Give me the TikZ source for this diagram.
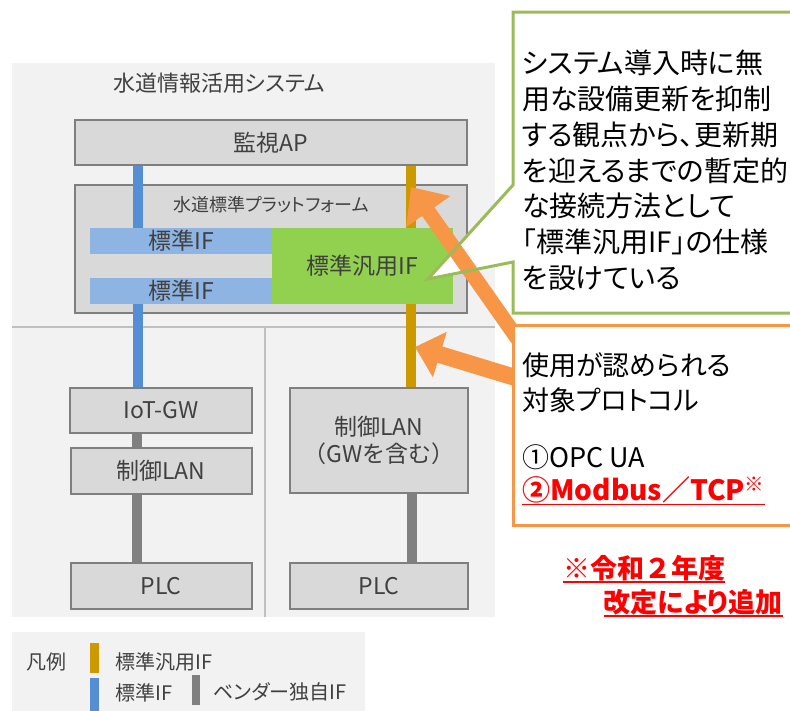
\documentclass[tikz,border=0pt]{standalone}
\usepackage{fontspec}
\setmainfont{Noto Sans CJK JP}[RawFeature=+palt]
\usetikzlibrary{arrows.meta}
\definecolor{bgsys}{HTML}{F2F2F2}
\definecolor{boxfill}{HTML}{D9D9D9}
\definecolor{boxline}{HTML}{7F7F7F}
\definecolor{divline}{HTML}{BFBFBF}
\definecolor{ifblue}{HTML}{8DB4E2}
\definecolor{lineblue}{HTML}{558ED5}
\definecolor{ifgreen}{HTML}{92D050}
\definecolor{goldline}{HTML}{CC9900}
\definecolor{vgray}{HTML}{808080}
\definecolor{orng}{HTML}{F79646}
\definecolor{cgreen}{HTML}{9BBB59}
\definecolor{txt}{HTML}{404040}
\definecolor{redtxt}{HTML}{FF0000}
\begin{document}
\begin{tikzpicture}[x=1pt,y=-1pt,
  sysbox/.style={draw=boxline, line width=2pt, fill=boxfill, text=txt, inner sep=0pt, align=center,
    font=\fontsize{23}{27}\selectfont},
  ifbar/.style={fill=ifblue, text=txt, inner sep=0pt, font=\fontsize{23}{27}\selectfont},
  conn/.style={line width=9.5pt},
  lbl/.style={text=txt, inner sep=0pt},
  legtext/.style={text=txt, inner sep=0pt, anchor=west, font=\fontsize{20}{24}\selectfont},
  notetext/.style={text=black, inner sep=0pt, anchor=west, font=\fontsize{27}{32}\selectfont},
  redtext/.style={text=redtxt, inner sep=0pt, font=\bfseries\fontsize{27}{32}\selectfont},
]
\useasboundingbox (0,0) rectangle (790,710);
\clip (0,0) rectangle (790,710);

% backgrounds
\fill[bgsys] (12,63) rectangle (495,617);
\fill[bgsys] (12,632) rectangle (365,712);
\draw[divline, line width=1.2pt] (12,327) -- (495,327);
\draw[divline, line width=1.2pt] (265,327) -- (265,617);

\node[lbl, anchor=west, font=\fontsize{22}{26}\selectfont] (systitle) at (113,83) {水道情報活用システム};

% boxes
\node[sysbox, minimum width=392pt, minimum height=45pt] (ap) at (271,142.5) {監視AP};
\node[sysbox, minimum width=392pt, minimum height=128pt] (pf) at (271,249) {};
\node[lbl, font=\fontsize{18}{22}\selectfont] (pftitle) at (271,205) {水道標準プラットフォーム};
\node[ifbar, minimum width=182pt, minimum height=26pt] (if1) at (181,241) {標準IF};
\node[ifbar, minimum width=182pt, minimum height=26pt] (if2) at (181,291) {標準IF};
\node[fill=ifgreen, text=txt, inner sep=0pt, minimum width=181pt, minimum height=76pt,
  font=\fontsize{23}{27}\selectfont] (gif) at (362.5,266) {標準汎用IF};

\node[sysbox, minimum width=182pt, minimum height=45pt] (iot) at (161,410.5) {IoT-GW};
\node[sysbox, minimum width=181pt, minimum height=46pt] (lan) at (161,471) {制御LAN};
\node[sysbox, minimum width=181pt, minimum height=46pt] (plc1) at (161,586) {PLC};
\node[sysbox, minimum width=178pt, minimum height=105pt] (gwlan) at (379,440.5) {制御LAN\\\addfontfeatures{RawFeature=-palt}（GWを含む）};
\node[sysbox, minimum width=178pt, minimum height=46pt] (plc2) at (379,586) {PLC};

% connectors
\coordinate (bx) at (138,0);
\coordinate (gx) at (411,0);
\coordinate (lx) at (137,0);
\coordinate (rx) at (412,0);
\draw[lineblue, conn] (bx |- ap.south) -- (bx |- if1.north);
\draw[lineblue, conn] (bx |- if2.south) -- (bx |- iot.north);
\draw[goldline, conn] (gx |- ap.south) -- (gx |- gif.north);
\draw[goldline, conn] (gx |- gif.south) -- (gx |- gwlan.north);
\draw[vgray, conn] (lx |- iot.south) -- (lx |- lan.north);
\draw[vgray, conn] (lx |- lan.south) -- (lx |- plc1.north);
\draw[vgray, conn] (rx |- gwlan.south) -- (rx |- plc2.north);

% green callout fill
\fill[white] (513,12) -- (800,12) -- (800,313) -- (513,313) -- (513,262) -- (428,279) -- (513,185) -- cycle;

% orange arrows
\coordinate (a1s) at (522,345);
\coordinate (a1t) at (411,187);
\coordinate (a2s) at (530,382);
\coordinate (a2t) at (415,347);
\draw[orng, line width=15pt, -{Triangle[width=52pt,length=30pt]}] (a1s) -- (a1t);
\draw[orng, line width=17pt, -{Triangle[width=46pt,length=26pt]}] (a2s) -- (a2t);

% green callout outline
\draw[cgreen, line width=3pt, line join=miter] (513,12) -- (800,12) -- (800,313) -- (513,313) -- (513,262) -- (428,279) -- (513,185) -- cycle;

% orange box
\draw[orng, line width=3pt, fill=white] (513,325) rectangle (800,525);

% callout texts
\node[anchor=north west, align=left, inner sep=0pt, text=black,
  font=\fontsize{28}{35.8}\selectfont] (note1) at (522,50)
  {システム導入時に無\\用な設備更新を抑制\\する観点から、更新期\\を迎えるまでの暫定的\\な接続方法として\\「標準汎用IF」の仕様\\を設けている};

\node[notetext] (p1) at (522,365) {使用が認められる};
\node[notetext] (p2) at (522,400) {対象プロトコル};
\node[notetext] (p3) at (522,457) {①OPC UA};
\node[redtext, anchor=west, font=\bfseries\fontsize{28}{32}\selectfont] (p4) at (522,490) {②Modbus／TCP\textsuperscript{※}};
\draw[redtxt, line width=1.6pt] ([yshift=-4pt]p4.base west) -- ([yshift=-4pt]p4.base east);

\node[redtext] (n1) at (644,568) {\addfontfeatures{RawFeature=-palt}※令和２年度};
\node[redtext, anchor=east] (n2) at (783,602) {改定により追加};
\draw[redtxt, line width=1.6pt] ([yshift=-4pt]n1.base west) -- ([yshift=-4pt]n1.base east);
\draw[redtxt, line width=1.6pt] ([yshift=-4pt]n2.base west) -- ([yshift=-4pt]n2.base east);

% legend
\node[legtext, anchor=center] (lg) at (47,662) {凡例};
\fill[goldline] (90,643) rectangle (99,673);
\node[legtext] (lg1) at (115,662) {標準汎用IF};
\fill[lineblue] (90,678) rectangle (99,712);
\node[legtext] (lg2) at (115,693) {標準IF};
\fill[vgray] (192,675) rectangle (200,705);
\node[legtext] (lg3) at (213,692) {ベンダー独自IF};
\end{tikzpicture}
\end{document}
